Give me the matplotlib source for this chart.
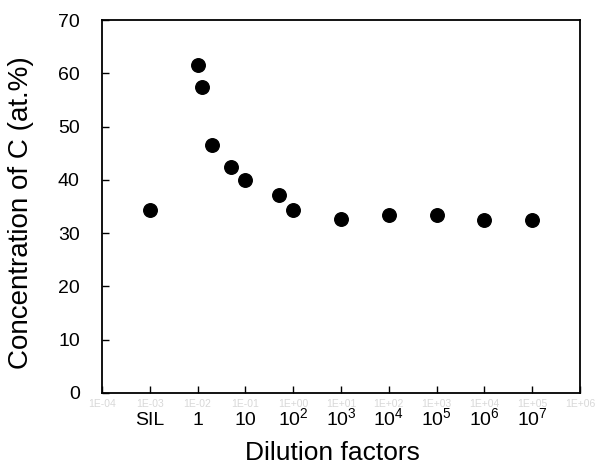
import numpy as np
import matplotlib
matplotlib.use("Agg")
import matplotlib.pyplot as plt
import matplotlib.transforms as mtransforms

# data (SIL sample put at 0.1 on the axis)
dilution = [0.1, 1, 1.25, 2, 5, 10, 50, 100, 1e3, 1e4, 1e5, 1e6, 1e7]
carbon = [34.4, 61.6, 57.5, 46.6, 42.5, 39.9, 37.1, 34.4, 32.6, 33.4, 33.4, 32.4, 32.4]

tick_pos = [1e-2, 1e-1, 1, 10, 1e2, 1e3, 1e4, 1e5, 1e6, 1e7, 1e8]
faint_labels = ["1E-04", "1E-03", "1E-02", "1E-01", "1E+00", "1E+01",
                "1E+02", "1E+03", "1E+04", "1E+05", "1E+06"]
shown_pos = [1e-1, 1, 10, 1e2, 1e3, 1e4, 1e5, 1e6, 1e7]
shown_labels = ["SIL", "1", "10", "$10^{2}$", "$10^{3}$", "$10^{4}$",
                "$10^{5}$", "$10^{6}$", "$10^{7}$"]

plt.rcParams['font.family'] = ['Liberation Sans', 'DejaVu Sans']
plt.rcParams['mathtext.fontset'] = 'custom'
plt.rcParams['mathtext.rm'] = 'Liberation Sans'
plt.rcParams['mathtext.it'] = 'Liberation Sans'

fig = plt.figure(figsize=(6.01, 4.66), dpi=100)
ax = fig.add_axes([0.1697, 0.1567, 0.7953, 0.8003])

ax.scatter(dilution, carbon, s=95, color='black', zorder=3)

ax.set_xscale('log')
ax.set_xlim(1e-2, 1e8)
ax.set_ylim(0, 70)
ax.set_yticks(np.arange(0, 71, 10))
ax.set_xticks(tick_pos)
ax.set_xticklabels(faint_labels, color='#d8d8d8', fontsize=7.5)
ax.minorticks_off()
ax.tick_params(axis='x', which='major', direction='in', length=5, width=1, pad=4)
ax.tick_params(axis='y', which='major', direction='in', length=5, width=1,
               labelsize=14, pad=16)
for sp in ax.spines.values():
    sp.set_linewidth(1.3)

# black labels laid over the faint ones
trans = mtransforms.blended_transform_factory(ax.transData, ax.transAxes)
for p, lab in zip(shown_pos, shown_labels):
    ax.text(p, -0.086, lab, transform=trans, ha='center', va='baseline', fontsize=14)

ax.set_ylabel("Concentration of C (at.%)", fontsize=20)
ax.yaxis.set_label_coords(-0.142, 0.484)
ax.set_xlabel("Dilution factors", fontsize=19)
ax.xaxis.set_label_coords(0.483, -0.128)

fig.savefig("out.png", dpi=100)
